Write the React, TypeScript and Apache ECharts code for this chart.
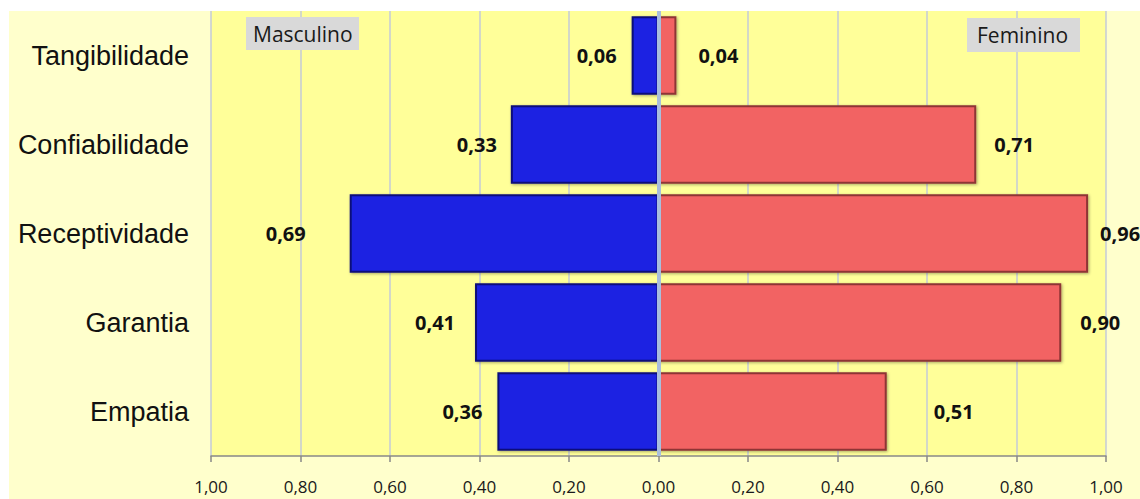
import React, { useEffect, useRef } from "react";
import * as echarts from "echarts";

const categories = ["Tangibilidade", "Confiabilidade", "Receptividade", "Garantia", "Empatia"];
const masculino = [0.06, 0.33, 0.69, 0.41, 0.36];
const feminino = [0.04, 0.71, 0.96, 0.9, 0.51];
const maleLabelGap = [15, 14, 44, 20, 15];
const femaleLabelGap = [22, 18, 12, 19, 47];

const fmt = (v: number) => Math.abs(v).toFixed(2).replace(".", ",");

export default function App() {
  const ref = useRef<HTMLDivElement>(null);
  useEffect(() => {
    if (!ref.current) return;
    const chart = echarts.init(ref.current, undefined, { renderer: "svg" });
    const labelStyle = {
      show: true,
      fontFamily: "Open Sans",
      fontWeight: "bold" as const,
      fontSize: 20,
      color: "#111",
      formatter: (p: any) => fmt(p.value),
    };
    chart.setOption({
      animation: false,
      backgroundColor: "transparent",
      grid: {
        left: 211,
        right: 34,
        top: 11,
        bottom: 43,
        containLabel: false,
        outerBoundsMode: "none",
        show: true,
        backgroundColor: "#FFFF99",
        borderWidth: 0,
      },
      xAxis: {
        type: "value",
        min: -1,
        max: 1,
        interval: 0.2,
        axisLine: { show: true, lineStyle: { color: "#888888", width: 1.5 } },
        axisTick: { show: true, length: 6, lineStyle: { color: "#888888", width: 1.5 } },
        axisLabel: {
          fontFamily: "Open Sans",
          fontSize: 17,
          color: "#1a1a1a",
          margin: 22,
          formatter: (v: number) => fmt(v),
        },
        splitLine: { show: true, lineStyle: { color: "#C5CBD8", width: 1.5 } },
      },
      yAxis: {
        type: "category",
        data: categories,
        inverse: true,
        axisLine: { show: false },
        axisTick: { show: false },
        splitLine: { show: false },
        axisLabel: {
          fontFamily: "Liberation Sans",
          fontSize: 27,
          color: "#111",
          margin: 22,
        },
      },
      series: [
        {
          name: "Masculino",
          type: "bar",
          stack: "g",
          barCategoryGap: "12%",
          data: masculino.map((v, i) => ({
            value: -v,
            label: { distance: maleLabelGap[i] },
          })),
          itemStyle: {
            color: "#1C23E2",
            borderColor: "#0B0E7A",
            borderWidth: 2,
            shadowColor: "rgba(0,0,0,0.35)",
            shadowBlur: 3,
            shadowOffsetX: 1,
            shadowOffsetY: 1,
          },
          label: { ...labelStyle, position: "left" },
        },
        {
          name: "Feminino",
          type: "bar",
          stack: "g",
          barCategoryGap: "12%",
          data: feminino.map((v, i) => ({
            value: v,
            label: { distance: femaleLabelGap[i] },
          })),
          itemStyle: {
            color: "#F26363",
            borderColor: "#8E3535",
            borderWidth: 2,
            shadowColor: "rgba(0,0,0,0.35)",
            shadowBlur: 3,
            shadowOffsetX: 1,
            shadowOffsetY: 1,
          },
          label: { ...labelStyle, position: "right" },
          markLine: {
            silent: true,
            symbol: "none",
            label: { show: false },
            lineStyle: { color: "#A9BEDD", width: 4, type: "solid" },
            data: [{ xAxis: 0 }],
          },
        },
      ],
      graphic: [
        {
          type: "rect",
          shape: { x: 246, y: 17, width: 113, height: 33 },
          style: { fill: "#D9D9D9" },
          z: 10,
        },
        {
          type: "text",
          x: 253,
          y: 34,
          style: {
            text: "Masculino",
            fontFamily: "Open Sans",
            fontSize: 21,
            fill: "#1a1a1a",
            verticalAlign: "middle",
          },
          z: 11,
        },
        {
          type: "rect",
          shape: { x: 967, y: 18, width: 113, height: 34 },
          style: { fill: "#D9D9D9" },
          z: 10,
        },
        {
          type: "text",
          x: 977,
          y: 35,
          style: {
            text: "Feminino",
            fontFamily: "Open Sans",
            fontSize: 21,
            fill: "#1a1a1a",
            verticalAlign: "middle",
          },
          z: 11,
        },
      ],
    });
    return () => chart.dispose();
  }, []);

  return (
    <div
      style={{
        position: "fixed",
        left: 0,
        top: 0,
        width: 1140,
        height: 499,
        background: "#FFFFFF",
        overflow: "hidden",
      }}
    >
      <div
        style={{
          position: "absolute",
          left: 9,
          top: 11,
          width: 1131,
          height: 488,
          background: "#FFFFCC",
        }}
      />
      <div ref={ref} style={{ position: "absolute", left: 0, top: 0, width: 1140, height: 499 }} />
    </div>
  );
}
